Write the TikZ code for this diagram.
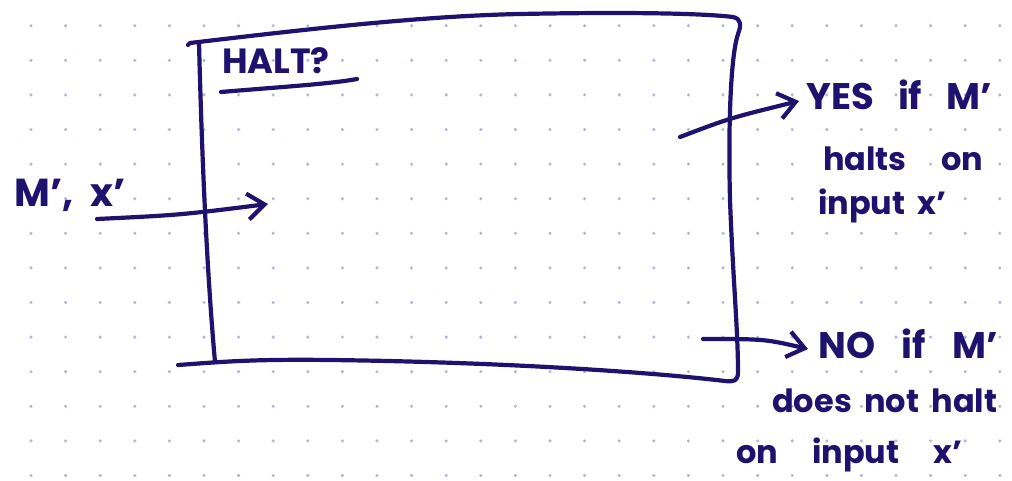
\documentclass[tikz,border=0pt]{standalone}
\usepackage{fontspec}
\newfontfamily\hand{Poppins}
\usetikzlibrary{arrows.meta}
\definecolor{ink}{RGB}{30,18,110}
\definecolor{dotc}{RGB}{172,186,212}
\begin{document}
\begin{tikzpicture}[x=1pt,y=-1pt,line cap=round,line join=round,
  inkline/.style={draw=ink,line width=4.2pt},
  handtext/.style={text=ink,inner sep=0pt,anchor=base west},
  fs/.style={font=\hand\bfseries\fontsize{#1}{#1}\selectfont},
  barb/.style={-{Straight Barb[length=17pt,width=26pt]}}]
\useasboundingbox[fill=white] (0,0) rectangle (1012,480);
% dotted grid
\foreach \i in {0,...,28}{
  \foreach \j in {0,...,13}{
    \fill[dotc] (31+34.6*\i,25.7+34.6*\j) circle (1.7pt);
  }
}
% the box
\draw[inkline] (188,45) -- (190,43) .. controls (300,30) and (420,16) .. (520,14)
  .. controls (620,12) and (700,13) .. (733,17) .. controls (742,19) and (741,26) .. (738,34)
  .. controls (731,55) and (728,120) .. (730,200) .. controls (733,280) and (738,330) .. (738,372)
  .. controls (738,381) and (734,382) .. (725,381)
  .. controls (650,372) and (500,362) .. (330,360) .. controls (250,359) and (220,362) .. (178,365);
\draw[inkline] (199,43) .. controls (201,120) and (205,250) .. (215,362);
\node[coordinate] (box) at (470,200) {};
% title
\node[handtext,fs=35] (halt) at (222,73) {\makebox[116pt][s]{HALT?}};
\draw[inkline] (221,92) .. controls (280,87) and (330,84) .. (357,79);
% input
\node[handtext,fs=39] (inlabel) at (14,206) {\makebox[112pt][s]{M’, x’}};
\coordinate (inS) at (97,219);
\coordinate (inE) at (268,204);
\draw[inkline,barb] (inS) .. controls (180,215) .. (inE);
% yes output
\node[handtext,fs=37] (yes1) at (806,109) {\makebox[186pt][s]{YES if M’}};
\node[handtext,fs=32] (yes2) at (823,170) {\makebox[160pt][s]{halts on}};
\node[handtext,fs=32] (yes3) at (818,214) {\makebox[128pt][s]{input x’}};
\coordinate (yesS) at (680,137);
\coordinate (yesE) at (799,101);
\draw[inkline,barb] (yesS) .. controls (730,118) .. (yesE);
% no output
\node[handtext,fs=37] (no1) at (818,358) {\makebox[180pt][s]{NO if M’}};
\node[handtext,fs=32] (no2) at (772,412) {\makebox[225pt][s]{does not halt}};
\node[handtext,fs=32] (no3) at (736,463) {\makebox[226pt][s]{on input x’}};
\coordinate (noS) at (703,339);
\coordinate (noE) at (808,349);
\draw[inkline,barb] (noS) .. controls (765,339) .. (noE);
\end{tikzpicture}
\end{document}
